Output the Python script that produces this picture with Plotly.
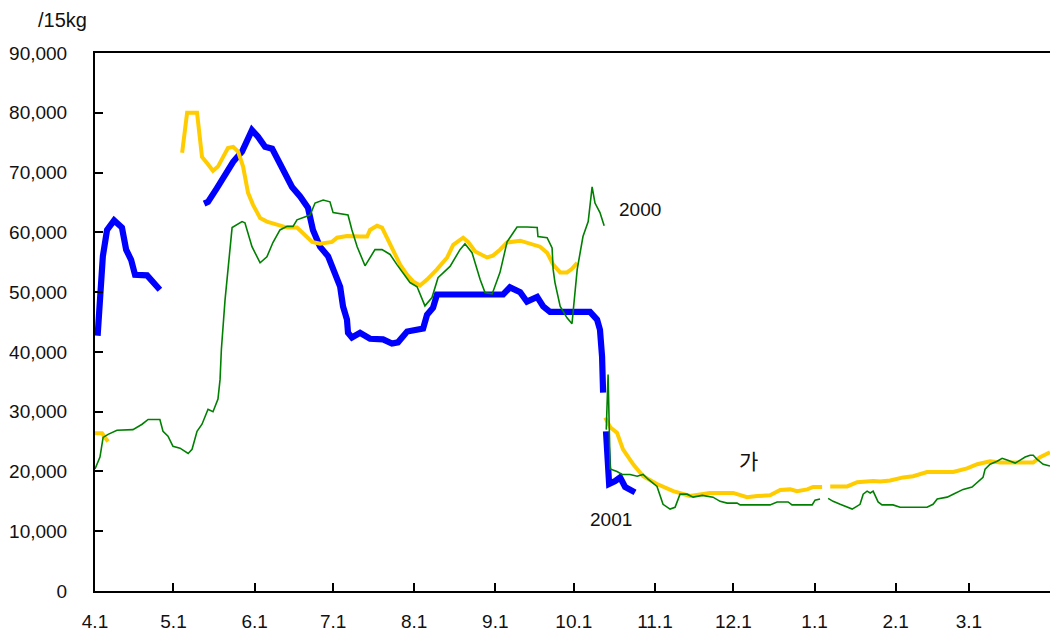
import plotly.graph_objects as go

# x values are days counted from April 1
month_days = [0, 30, 61, 91, 122, 153, 183, 214, 244, 275, 306, 334]
month_labels = ["4.1", "5.1", "6.1", "7.1", "8.1", "9.1", "10.1",
                "11.1", "12.1", "1.1", "2.1", "3.1"]

price_ticks = [0, 10000, 20000, 30000, 40000, 50000, 60000, 70000, 80000, 90000]

# 2001 (blue, thick)
days_2001 = [1, 3, 4.6, 7.3, 10.3, 11.9, 13.8, 15.3, 19.9, 22.6, 24.8, None,
             41.7, 43.2, 46.6, 50.5, 52.8, 56.2, 58.1, 60.0, 62.3, 65.0, 67.7,
             70.7, 73.4, 75.3, 78.4, 81.4, 83.3, 86.0, 89.1, 91.0, 92.5, 93.7,
             94.8, 96.3, 96.7, 98.2, 101.3, 105.1, 110.1, 113.5, 115.8, 119.3,
             125.4, 126.9, 129.2, 130.7, 156.0, 158.6, 162.5, 165.1, 169.0,
             171.3, 173.9, 189.2, 191.9, 193.0, 193.8, 194.2, None,
             195.3, 196.5, 198.8, 200.7, 202.6, 206.4]
price_2001 = [42700, 56000, 60400, 62000, 60800, 57100, 55400, 52900, 52800, 51300, 50400, None,
              64800, 65100, 67400, 70000, 71800, 73500, 75500, 77100, 76000, 74300, 74000,
              71600, 69600, 67600, 66000, 64100, 60400, 57600, 56000, 53800, 52600, 50900,
              47600, 45400, 43200, 42400, 43200, 42200, 42100, 41400, 41600, 43400,
              43900, 46200, 47400, 49600, 49600, 50800, 50000, 48400, 49200,
              47600, 46700, 46700, 45400, 43700, 39200, 33200, None,
              26700, 17900, 18400, 19000, 17400, 16500]

# 가 (yellow, medium)
days_avg = [0, 2.7, 3.8, 5.0, None,
            33.3, 35.2, 39.0, 40.1, 40.9, 42.8, 45.1, 47.0, 48.9, 50.8, 52.8, 54.7,
            56.6, 58.5, 60.4, 63.1, 65.7, 69.6, 73.4, 77.2, 79.5, 83.0, 86.0, 90.6,
            92.5, 96.3, 101.3, 104.0, 105.1, 107.8, 109.7, 111.6, 113.9, 116.6,
            119.3, 121.6, 124.2, 126.9, 130.7, 134.6, 136.9, 140.7, 142.6, 145.3,
            149.8, 152.1, 154.8, 157.5, 162.5, 165.1, 170.1, 172.8, 175.1, 177.8,
            180.4, 182.3, 184.3, None,
            195.0, 196.9, 199.5, 201.8, 205.7, 209.5, 214.8, 221.0, 227.4, 235.0,
            243.9, 249.2, 253.1, 258.0, 261.9, 265.7, 268.3, 272.2, 274.5, 277.9, None,
            281.0, 287.5, 291.3, 297.4, 300.1, 303.9, 308.9, 312.7, 318.0, 328.0,
            333.3, 337.2, 342.1, 345.9, 358.6, 361.2, 365.0]
price_avg = [26400, 26400, 25700, 25000, None,
             73300, 80000, 80000, 76000, 72600, 71600, 70300, 71000, 72600, 74100, 74300, 73500,
             71000, 66600, 64600, 62400, 61800, 61300, 60800, 60800, 59900, 58400, 58100, 58400,
             59100, 59400, 59300, 59300, 60400, 61100, 60800, 59100, 56800, 54600,
             52900, 51800, 51100, 52100, 53800, 55800, 57900, 59100, 58400, 56800,
             55800, 56100, 57100, 58300, 58600, 58300, 57600, 56600, 54600, 53300,
             53300, 53900, 54900, None,
             29000, 27400, 26500, 23700, 21200, 19200, 17900, 16700, 15900, 16400,
             16400, 15700, 15900, 16000, 16900, 17000, 16700, 17000, 17400, 17400, None,
             17500, 17500, 18200, 18400, 18300, 18500, 19000, 19200, 19900, 19900,
             20500, 21200, 21700, 21500, 21500, 22400, 23200]

# 2000 (green, thin)
days_2000 = [0, 1.9, 3.1, 5.0, 8.4, 14.5, 18.0, 20.3, 24.8, 26.0, 27.9, 29.8, 32.5,
             35.6, 37.1, 39.0, 40.9, 43.2, 45.1, 47.0, 47.8, 48.3, 49.7, 52.4, 56.2,
             57.3, 60.0, 61.2, 63.1, 65.7, 68.0, 70.7, 73.4, 75.7, 77.2, 82.2, 84.1,
             87.2, 89.8, 91.0, 96.7, 98.2, 100.2, 103.2, 107.0, 109.7, 112.8, 115.4,
             117.7, 120.4, 123.1, 126.1, 128.8, 131.1, 135.7, 139.5, 141.4, 144.1,
             147.2, 149.1, 151.8, 154.8, 157.5, 161.3, 165.1, 169.0, 169.3, 172.8,
             174.7, 175.1, 175.8, 177.8, 180.4, 182.3, 184.3, 186.5, 188.5, 190.0,
             191.1, 193.0, 194.6, None,
             195.4, 196.1, 196.9, 199.5, 201.5, 204.5, 207.2, 209.5, 211.4, 214.8,
             217.1, 219.8, 221.7, 223.6, 226.3, 228.6, 232.1, 236.2, 238.9, 241.6,
             245.4, 246.6, 258.0, 260.7, 264.9, 266.4, 274.1, 275.2, 277.1, None,
             280.2, 282.1, 284.8, 286.7, 289.4, 291.3, 292.4, 293.6, 295.1, 296.3,
             297.4, 299.3, 300.8, 305.0, 307.7, 318.0, 320.3, 321.9, 325.7, 328.0,
             331.8, 335.2, 337.5, 339.4, 340.2, 342.1, 344.8, 346.7, 348.6, 351.7,
             353.6, 355.5, 357.4, 358.6, 360.1, 362.4, 365.0]
price_2000 = [20400, 22400, 25700, 26200, 26900, 27000, 27900, 28700, 28700, 26700, 25900, 24200, 23900,
              23000, 23700, 26700, 27900, 30400, 30000, 32100, 35400, 40400, 48700, 60800, 61800,
              61600, 57600, 56600, 54900, 55900, 58300, 60400, 61000, 61000, 62100, 62900, 64900,
              65400, 65100, 63300, 62900, 60400, 57600, 54400, 57100, 57100, 56300, 54600,
              53300, 51600, 50900, 47700, 49100, 52400, 54300, 57100, 58100, 56600,
              52100, 49900, 49700, 53300, 58400, 60900, 60900, 60800, 59300, 59100,
              57400, 53800, 51600, 47600, 45700, 44700, 53800, 59300, 61800, 67600,
              64900, 63300, 61100, None,
              27000, 36200, 20400, 20000, 19500, 19500, 19200, 19500, 18700, 17500,
              14500, 13700, 14000, 16200, 16200, 15700, 16000, 15700, 15000, 14700,
              14700, 14400, 14400, 14900, 14900, 14400, 14400, 15200, 15400, None,
              15500, 15000, 14500, 14200, 13700, 14200, 14500, 16200, 16700, 16400,
              16700, 14900, 14400, 14400, 14000, 14000, 14500, 15400, 15700, 16200,
              17000, 17400, 18200, 19000, 20400, 21200, 21700, 22200, 21900, 21400,
              21900, 22400, 22700, 22700, 22000, 21200, 20900]

font_family = "Arial, Liberation Sans, Noto Sans CJK KR, sans-serif"

fig = go.Figure()
fig.add_trace(go.Scatter(x=days_2001, y=price_2001, mode="lines", name="2001",
                         line=dict(color="#0000FF", width=6.2), connectgaps=False))
fig.add_trace(go.Scatter(x=days_avg, y=price_avg, mode="lines", name="가",
                         line=dict(color="#FFCC00", width=4), connectgaps=False))
fig.add_trace(go.Scatter(x=days_2000, y=price_2000, mode="lines", name="2000",
                         line=dict(color="#008000", width=1.6), connectgaps=False))

fig.add_annotation(x=208.3, y=63800, text="2000", showarrow=False,
                   font=dict(size=19, color="#111111"))
fig.add_annotation(x=197.1, y=11900, text="2001", showarrow=False,
                   font=dict(size=19, color="#111111"))
fig.add_annotation(x=249.6, y=21700, text="가", showarrow=False,
                   font=dict(size=21, color="#111111"))
fig.add_annotation(xref="paper", yref="paper", x=-0.062, y=1.0, yshift=46,
                   xanchor="left", text="/15kg", showarrow=False,
                   font=dict(size=20, color="#111111"))

fig.update_layout(
    width=1050,
    height=638,
    showlegend=False,
    plot_bgcolor="white",
    paper_bgcolor="white",
    margin=dict(l=95, r=0, t=53, b=47, pad=0),
    font=dict(family=font_family, size=19, color="#111111"),
    xaxis=dict(
        range=[0, 365],
        tickvals=month_days,
        ticktext=month_labels,
        ticks="inside",
        ticklen=8,
        tickwidth=1.5,
        tickcolor="black",
        showline=True,
        linecolor="black",
        linewidth=2,
        mirror=True,
        showgrid=False,
        zeroline=False,
        ticklabelstandoff=12,
        tickfont=dict(size=19),
    ),
    yaxis=dict(
        range=[0, 90000],
        tickvals=price_ticks,
        tickformat=",d",
        ticks="inside",
        ticklen=8,
        tickwidth=1.5,
        tickcolor="black",
        showline=True,
        linecolor="black",
        linewidth=2,
        showgrid=False,
        zeroline=False,
        ticklabelstandoff=22,
        tickfont=dict(size=19),
    ),
)

# drop the default page margin so the chart sits at the window origin
fig.write_html("out.html", config={"displayModeBar": False},
               post_script="document.body.style.margin = '0';")
